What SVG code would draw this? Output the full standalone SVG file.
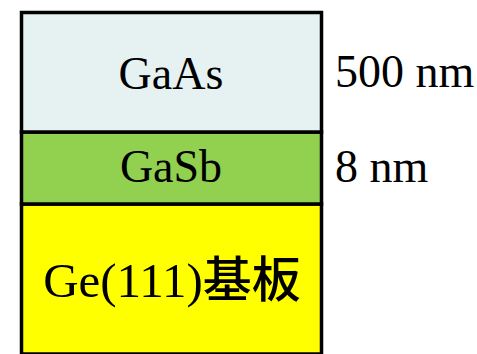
<svg xmlns="http://www.w3.org/2000/svg" width="477" height="354" viewBox="0 0 477 354">
<style>
.layer{stroke:#000;stroke-width:3.5}
.t{font-family:"Liberation Serif","Noto Sans CJK JP",serif;font-size:46px;fill:#000}
.m{text-anchor:middle}
</style>
<rect width="477" height="354" fill="#fff"/>
<g id="ge">
<rect class="layer" x="21.5" y="204" width="300" height="150" fill="#FFFF00"/>
<text class="t m" x="172" y="297" style="font-size:49px">Ge(111)<tspan font-weight="500">基板</tspan></text>
</g>
<g id="gasb">
<rect class="layer" x="21.5" y="132" width="300" height="72" fill="#92D050"/>
<text class="t m" x="171" y="182">GaSb</text>
</g>
<g id="gaas">
<rect class="layer" x="21.5" y="12.5" width="300" height="119.5" fill="#E6F2F2"/>
<text class="t m" x="171" y="89">GaAs</text>
</g>
<g id="labels">
<text class="t" x="335" y="87">500 nm</text>
<text class="t" x="335" y="182">8 nm</text>
</g>
</svg>
